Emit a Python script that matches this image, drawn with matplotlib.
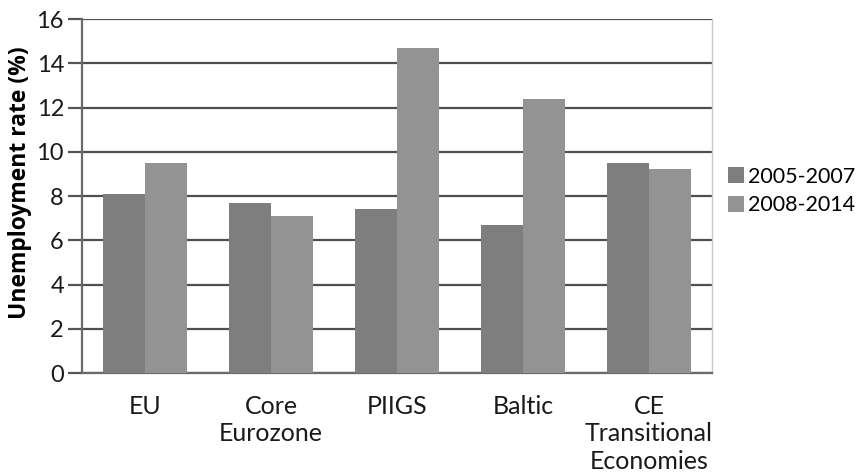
import matplotlib.pyplot as plt
import numpy as np

# Kategorien und Werte
regions = ["EU", "Core\nEurozone", "PIIGS", "Baltic", "CE\nTransitional\nEconomies"]
rate_2005_2007 = [8.1, 7.7, 7.4, 6.7, 9.5]
rate_2008_2014 = [9.5, 7.1, 14.7, 12.4, 9.2]
series_labels = ["2005-2007", "2008-2014"]
y_ticks = [0, 2, 4, 6, 8, 10, 12, 14, 16]

plt.rcParams["font.family"] = ["Lato", "DejaVu Sans"]

fig = plt.figure(figsize=(8.6, 4.73), dpi=100)
ax = fig.add_axes([0.0953, 0.2114, 0.7326, 0.7484])

x = np.arange(len(regions))
w = 1 / 3
ax.bar(x - w / 2, rate_2005_2007, width=w, color="#7e7e7e", label=series_labels[0], zorder=3)
ax.bar(x + w / 2, rate_2008_2014, width=w, color="#939393", label=series_labels[1], zorder=3)

ax.set_xlim(-0.5, len(regions) - 0.5)
ax.set_ylim(0, 16)
ax.set_yticks(y_ticks)
ax.yaxis.grid(True, color="#4f4f4f", linewidth=1.6, zorder=1)
ax.set_axisbelow(True)

ax.set_xticks(x)
ax.set_xticklabels(regions, fontsize=18, linespacing=1.22, color="#1a1a1a")
ax.tick_params(axis="x", length=0, pad=16)
ax.tick_params(axis="y", length=10, width=1.6, color="#555555", pad=3,
               labelsize=17, labelcolor="#1a1a1a")

ax.set_ylabel("Unemployment rate (%)", fontsize=16.5, fontweight="bold",
              family=["Open Sans", "DejaVu Sans"])
ax.yaxis.set_label_coords(-0.08, 0.538)

for s in ["left", "bottom"]:
    ax.spines[s].set_color("#6a6a6a")
    ax.spines[s].set_linewidth(1.6)
ax.spines["right"].set_color("#c8c8c8")
ax.spines["right"].set_linewidth(1.0)
ax.spines["top"].set_visible(False)

ax.legend(loc="center left", bbox_to_anchor=(1.025, 0.514), frameon=False,
          fontsize=15.5, handlelength=0.75, handleheight=0.75, handletextpad=0.2,
          labelspacing=0.4, borderaxespad=0, borderpad=0)

fig.savefig("out.png", dpi=100)
